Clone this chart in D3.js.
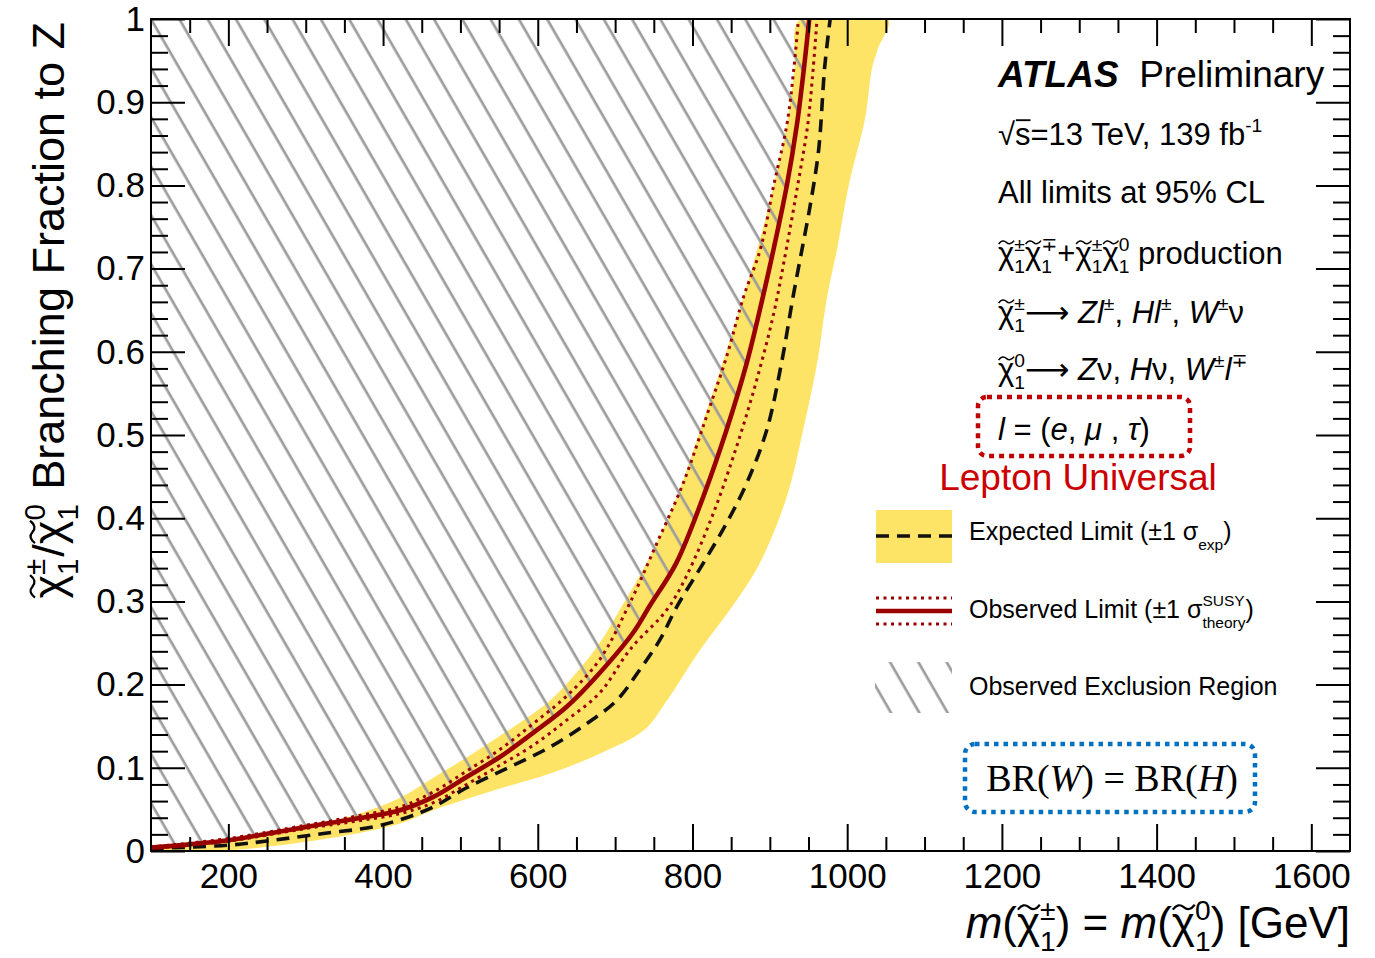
<!DOCTYPE html>
<html>
<head>
<meta charset="utf-8">
<script src="https://cdn.jsdelivr.net/npm/d3@7"></script>
<style>
  html, body { margin: 0; padding: 0; background: #fff; }
  svg { display: block; }
  text { white-space: pre; }
</style>
</head>
<body>
<svg id="chart" width="1375" height="958"></svg>
<script>
// ---------------- DATA ----------------
// Expected limit (black dashed): mass [GeV] and branching fraction
const expMass = [100, 200, 258, 323, 387, 430, 465, 508, 564, 616, 663, 702, 732, 758, 780, 814, 844, 870, 896, 915, 930, 943, 952, 963, 971, 978];
const expBR   = [0.003, 0.007, 0.013, 0.021, 0.029, 0.040, 0.053, 0.076, 0.101, 0.125, 0.153, 0.181, 0.218, 0.254, 0.294, 0.346, 0.394, 0.442, 0.506, 0.586, 0.666, 0.730, 0.775, 0.842, 0.943, 1.0];

// Expected +-1 sigma band: upper-left edge and lower-right edge
const bandLoMass = [100, 215, 300, 366, 422, 465, 529, 581, 616, 646, 680, 706, 745, 780, 810, 836, 862, 887, 905, 922, 932, 939];
const bandLoBR   = [0.007, 0.016, 0.029, 0.044, 0.064, 0.088, 0.125, 0.157, 0.181, 0.210, 0.250, 0.290, 0.354, 0.426, 0.506, 0.578, 0.654, 0.734, 0.800, 0.873, 0.940, 1.0];
const bandHiMass = [100, 200, 240, 301, 360, 425, 465, 551, 616, 680, 737, 767, 810, 853, 887, 922, 943, 961, 974, 987, 1002, 1023, 1032, 1040, 1053];
const bandHiBR   = [0.0, 0.001, 0.004, 0.011, 0.020, 0.034, 0.049, 0.075, 0.093, 0.117, 0.145, 0.181, 0.242, 0.296, 0.346, 0.426, 0.506, 0.586, 0.666, 0.724, 0.800, 0.880, 0.940, 0.965, 1.0];

// Observed limit (dark red solid)
const obsMass = [100, 150, 200, 258, 301, 366, 422, 465, 508, 551, 594, 637, 680, 723, 745, 779, 814, 844, 870, 891, 905, 922, 935, 944, 951];
const obsBR   = [0.004, 0.008, 0.013, 0.022, 0.029, 0.039, 0.049, 0.065, 0.089, 0.113, 0.142, 0.173, 0.214, 0.262, 0.295, 0.346, 0.426, 0.506, 0.586, 0.666, 0.724, 0.800, 0.873, 0.940, 1.0];

// Observed +1 sigma theory (left dotted) and -1 sigma theory (right dotted)
const obsUpMass = [100, 200, 300, 366, 422, 465, 508, 551, 594, 637, 680, 719, 754, 788, 818, 844, 866, 888, 905, 922, 931, 937];
const obsUpBR   = [0.005, 0.015, 0.031, 0.042, 0.053, 0.071, 0.096, 0.122, 0.153, 0.186, 0.230, 0.298, 0.370, 0.442, 0.522, 0.594, 0.666, 0.724, 0.800, 0.873, 0.940, 1.0];
const obsDnMass = [100, 200, 300, 366, 422, 465, 508, 551, 594, 637, 680, 720, 767, 792, 827, 857, 883, 905, 921, 936, 949, 956, 961];
const obsDnBR   = [0.003, 0.012, 0.027, 0.036, 0.045, 0.058, 0.080, 0.103, 0.127, 0.157, 0.190, 0.243, 0.290, 0.330, 0.406, 0.486, 0.566, 0.646, 0.722, 0.800, 0.873, 0.940, 1.0];

// Axis ticks
const xMajorTicks = [200, 400, 600, 800, 1000, 1200, 1400, 1600];
const xMinorTicks = [150, 250, 300, 350, 450, 500, 550, 650, 700, 750, 850, 900, 950, 1050, 1100, 1150, 1250, 1300, 1350, 1450, 1500, 1550];
const yMajorTicks = [0, 0.1, 0.2, 0.3, 0.4, 0.5, 0.6, 0.7, 0.8, 0.9, 1.0];
const yMinorTicks = [0.02, 0.04, 0.06, 0.08, 0.12, 0.14, 0.16, 0.18, 0.22, 0.24, 0.26, 0.28, 0.32, 0.34, 0.36, 0.38, 0.42, 0.44, 0.46, 0.48, 0.52, 0.54, 0.56, 0.58, 0.62, 0.64, 0.66, 0.68, 0.72, 0.74, 0.76, 0.78, 0.82, 0.84, 0.86, 0.88, 0.92, 0.94, 0.96, 0.98];

// ---------------- DRAWING ----------------
const SANS = "'Liberation Sans', Arial, Helvetica, 'DejaVu Sans', sans-serif";
const SERIF = "'Liberation Serif', 'DejaVu Serif', serif";
const svg = d3.select('#chart');
svg.append('rect').attr('width', 1375).attr('height', 958).attr('fill', '#fff');

const L = 151, R = 1350, T = 19, B = 851;
const x = d3.scaleLinear().domain([100, 1650]).range([L, R]);
const y = d3.scaleLinear().domain([0, 1]).range([B, T]);

const defs = svg.append('defs');
defs.append('clipPath').attr('id', 'plotclip')
  .append('rect').attr('x', L).attr('y', T).attr('width', R - L).attr('height', B - T);

// hatch pattern (lines at 60 degrees, "\" direction)
const hs = 24.5;
const hatch = defs.append('pattern').attr('id', 'hatch')
  .attr('patternUnits', 'userSpaceOnUse')
  .attr('width', hs).attr('height', hs)
  .attr('patternTransform', 'rotate(-30)');
const u0 = ((L * Math.cos(Math.PI / 6) - T * 0.5) % hs + hs) % hs;
[u0, u0 - hs, u0 + hs].forEach(u => {
  hatch.append('line').attr('x1', u).attr('x2', u).attr('y1', -2).attr('y2', hs + 2)
    .attr('stroke', '#9c9c9c').attr('stroke-width', 2.7);
});

const plot = svg.append('g').attr('clip-path', 'url(#plotclip)');

const zip = (ms, bs) => ms.map((m, i) => [m, bs[i]]);
const lineLin = d3.line().x(d => x(d[0])).y(d => y(d[1]));
const lineSmooth = d3.line().x(d => x(d[0])).y(d => y(d[1])).curve(d3.curveCatmullRom.alpha(0.5));

// yellow band
const bandPts = zip(bandLoMass, bandLoBR).concat(zip(bandHiMass, bandHiBR).reverse());
plot.append('path').attr('d', lineSmooth(bandPts) + 'Z').attr('fill', '#fee466').attr('stroke', 'none');

// hatched exclusion region (left of observed line)
const obsPts = zip(obsMass, obsBR);
const hatchPoly = [[100, 1.05], [obsMass[obsMass.length - 1], 1.05]].concat(obsPts.slice().reverse()).concat([[100, obsBR[0]]]);
plot.append('path').attr('d', lineLin(hatchPoly) + 'Z').attr('fill', 'url(#hatch)').attr('stroke', 'none');

// expected dashed
plot.append('path').attr('d', lineSmooth(zip(expMass, expBR)))
  .attr('fill', 'none').attr('stroke', '#111').attr('stroke-width', 3.6).attr('stroke-dasharray', '13,8');

// observed theory dotted
[zip(obsUpMass, obsUpBR), zip(obsDnMass, obsDnBR)].forEach(p => {
  plot.append('path').attr('d', lineSmooth(p))
    .attr('fill', 'none').attr('stroke', '#990000').attr('stroke-width', 3).attr('stroke-dasharray', '3,4.5');
});
// observed solid
plot.append('path').attr('d', lineSmooth(obsPts))
  .attr('fill', 'none').attr('stroke', '#990000').attr('stroke-width', 4.6);

// ---------------- AXES ----------------
function styleAxis(g) {
  g.select('.domain').remove();
  g.selectAll('line').attr('stroke', '#000').attr('stroke-width', 2);
  g.selectAll('text').attr('font-size', 35).attr('font-family', SANS).attr('fill', '#000');
}
const fmtY = d => (d === 0 ? '0' : d === 1 ? '1' : d3.format('.1f')(d));

svg.append('g').attr('transform', `translate(0,${B})`)
  .call(d3.axisBottom(x).tickValues(xMajorTicks).tickSize(-27).tickPadding(12).tickFormat(d3.format('d'))).call(styleAxis);
svg.append('g').attr('transform', `translate(0,${B})`)
  .call(d3.axisBottom(x).tickValues(xMinorTicks).tickSize(-14).tickFormat('')).call(styleAxis);
svg.append('g').attr('transform', `translate(0,${T})`)
  .call(d3.axisTop(x).tickValues(xMajorTicks).tickSize(-27).tickFormat('')).call(styleAxis);
svg.append('g').attr('transform', `translate(0,${T})`)
  .call(d3.axisTop(x).tickValues(xMinorTicks).tickSize(-14).tickFormat('')).call(styleAxis);

svg.append('g').attr('transform', `translate(${L},0)`)
  .call(d3.axisLeft(y).tickValues(yMajorTicks).tickSize(-34).tickPadding(6).tickFormat(fmtY)).call(styleAxis);
svg.append('g').attr('transform', `translate(${L},0)`)
  .call(d3.axisLeft(y).tickValues(yMinorTicks).tickSize(-17).tickFormat('')).call(styleAxis);
svg.append('g').attr('transform', `translate(${R},0)`)
  .call(d3.axisRight(y).tickValues(yMajorTicks).tickSize(-34).tickFormat('')).call(styleAxis);
svg.append('g').attr('transform', `translate(${R},0)`)
  .call(d3.axisRight(y).tickValues(yMinorTicks).tickSize(-17).tickFormat('')).call(styleAxis);

svg.append('rect').attr('x', L).attr('y', T).attr('width', R - L).attr('height', B - T)
  .attr('fill', 'none').attr('stroke', '#000').attr('stroke-width', 2);

// ---------------- RICH TEXT HELPER ----------------
function mkText(g, xx, yy, f, col, str) {
  return g.append('text').attr('x', xx).attr('y', yy).attr('font-size', f)
    .attr('font-family', SANS).attr('fill', col).text(str);
}
function rich(g, x0, y0, runs, fs, color) {
  let cx = x0;
  const col = color || '#000';
  runs.forEach(r => {
    const f = r.fs || fs;
    const c = r.fill || col;
    if (r.t !== undefined && r.t !== '') {
      const t = mkText(g, cx, y0, f, c, r.t);
      if (r.it) t.attr('font-style', 'italic');
      if (r.b) t.attr('font-weight', 'bold');
      const w = t.node().getComputedTextLength();
      if (r.tilde) {
        const tw = w * 0.95, ty = y0 - f * 0.70, a = f * 0.055, x1 = cx + w * 0.04;
        g.append('path')
          .attr('d', `M${x1},${ty + a} Q${x1 + tw / 4},${ty - 2 * a} ${x1 + tw / 2},${ty} T${x1 + tw},${ty - a}`)
          .attr('fill', 'none').attr('stroke', c).attr('stroke-width', Math.max(1.2, f * 0.05));
      }
      if (r.bar) {
        // overbar for the radical sign over the following characters
        g.append('line').attr('x1', cx + w * r.bar[0]).attr('x2', cx + w * r.bar[1])
          .attr('y1', y0 - f * 0.80).attr('y2', y0 - f * 0.80)
          .attr('stroke', c).attr('stroke-width', f * 0.06);
      }
      cx += w;
    }
    if (r.sup !== undefined || r.sub !== undefined) {
      const sf = f * (r.sfs || 0.62);
      let w1 = 0, w2 = 0;
      if (r.sup !== undefined) {
        const t = mkText(g, cx + (r.supdx || 0), y0 - f * (r.supUp || 0.42), sf, c, r.sup);
        w1 = t.node().getComputedTextLength() + (r.supdx || 0);
      }
      if (r.sub !== undefined) {
        const t = mkText(g, cx, y0 + f * (r.subDown || 0.30), sf, c, r.sub);
        w2 = t.node().getComputedTextLength();
      }
      cx += Math.max(w1, w2);
    }
    if (r.sp) cx += r.sp * f;
  });
  return cx - x0;
}

// ---------------- Y-AXIS TITLE ----------------
{
  const g = svg.append('g');
  const inner = g.append('g');
  const w = rich(inner, 0, 0, [
    { t: 'χ', tilde: true, sup: '±', sub: '1', sfs: 0.66, sp: 0.04 },
    { t: '/' },
    { t: 'χ', tilde: true, sup: '0', sub: '1', sfs: 0.66, sp: 0.04 },
    { t: ' Branching Fraction to Z' }
  ], 45);
  g.attr('transform', `translate(64,${22 + w}) rotate(-90)`);
}

// ---------------- X-AXIS TITLE ----------------
{
  const g = svg.append('g');
  const w = rich(g, 0, 0, [
    { t: 'm', it: true }, { t: '(' },
    { t: 'χ', tilde: true, sup: '±', sub: '1', sfs: 0.64 },
    { t: ') = ' }, { t: 'm', it: true }, { t: '(' },
    { t: 'χ', tilde: true, sup: '0', sub: '1', sfs: 0.64 },
    { t: ') [GeV]' }
  ], 44);
  g.attr('transform', `translate(${1350 - w},938)`);
}

// ---------------- LABEL BLOCK ----------------
const ARW = '⟶';
const lab = svg.append('g');
rich(lab, 998, 87, [{ t: 'ATLAS', b: true, it: true }, { t: '  Preliminary' }], 37);
rich(lab, 998, 145, [{ t: '√s', bar: [0.55, 1.0] }, { t: '=13 TeV, 139 fb', sup: '-1' }], 31);
rich(lab, 998, 203, [{ t: 'All limits at 95% CL' }], 31);
rich(lab, 998, 264, [
  { t: 'χ', tilde: true, sup: '±', sub: '1' },
  { t: 'χ', tilde: true, sup: '∓', sub: '1' },
  { t: '+' },
  { t: 'χ', tilde: true, sup: '±', sub: '1' },
  { t: 'χ', tilde: true, sup: '0', sub: '1' },
  { t: ' production' }
], 31);
rich(lab, 998, 323, [
  { t: 'χ', tilde: true, sup: '±', sub: '1' },
  { t: ARW + ' ' }, { t: 'Zl', it: true, sup: '±' }, { t: ', ' },
  { t: 'Hl', it: true, sup: '±' }, { t: ', ' },
  { t: 'W', it: true, sup: '±' }, { t: 'ν' }
], 31);
rich(lab, 998, 380, [
  { t: 'χ', tilde: true, sup: '0', sub: '1' },
  { t: ARW + ' ' }, { t: 'Z', it: true }, { t: 'ν, ' },
  { t: 'H', it: true }, { t: 'ν, ' },
  { t: 'W', it: true, sup: '±' }, { t: 'l', it: true, sup: '∓' }
], 31);
rich(lab, 998, 440, [
  { t: 'l', it: true }, { t: ' = (' }, { t: 'e', it: true }, { t: ', ' },
  { t: 'μ', it: true }, { t: ' , ' }, { t: 'τ', it: true }, { t: ')' }
], 31);
svg.append('rect').attr('x', 978).attr('y', 397).attr('width', 212).attr('height', 59).attr('rx', 9)
  .attr('fill', 'none').attr('stroke', '#c00000').attr('stroke-width', 4.5).attr('stroke-dasharray', '5,5');
svg.append('text').attr('x', 1078).attr('y', 490).attr('text-anchor', 'middle')
  .attr('font-family', SANS).attr('font-size', 37).attr('fill', '#cc0000').text('Lepton Universal');

// ---------------- LEGEND ----------------
const leg = svg.append('g');
leg.append('rect').attr('x', 876).attr('y', 510).attr('width', 76).attr('height', 53).attr('fill', '#fee466');
leg.append('line').attr('x1', 876).attr('x2', 952).attr('y1', 536).attr('y2', 536)
  .attr('stroke', '#111').attr('stroke-width', 3.6).attr('stroke-dasharray', '13,8');
rich(leg, 969, 540, [{ t: 'Expected Limit (±1 σ', sub: 'exp', subDown: 0.38 }, { t: ')' }], 25);

leg.append('line').attr('x1', 876).attr('x2', 952).attr('y1', 611).attr('y2', 611)
  .attr('stroke', '#990000').attr('stroke-width', 4.6);
[598, 624].forEach(yy => leg.append('line').attr('x1', 876).attr('x2', 952).attr('y1', yy).attr('y2', yy)
  .attr('stroke', '#990000').attr('stroke-width', 3).attr('stroke-dasharray', '3,4.5'));
rich(leg, 969, 618, [{ t: 'Observed Limit (±1 σ', sup: 'SUSY', sub: 'theory', supUp: 0.5, subDown: 0.38 }, { t: ')' }], 25);

leg.append('rect').attr('x', 875).attr('y', 662).attr('width', 77).attr('height', 51).attr('fill', 'url(#hatch)');
rich(leg, 969, 695, [{ t: 'Observed Exclusion Region' }], 25);

// ---------------- BR(W)=BR(H) box ----------------
svg.append('rect').attr('x', 965).attr('y', 744).attr('width', 290).attr('height', 68).attr('rx', 10)
  .attr('fill', 'none').attr('stroke', '#0070c0').attr('stroke-width', 4.5).attr('stroke-dasharray', '4.5,5');
{
  const t = svg.append('text').attr('x', 1112).attr('y', 791).attr('text-anchor', 'middle')
    .attr('font-size', 38).attr('font-family', SERIF).attr('fill', '#000');
  t.append('tspan').text('BR(');
  t.append('tspan').attr('font-style', 'italic').text('W');
  t.append('tspan').text(') = BR(');
  t.append('tspan').attr('font-style', 'italic').text('H');
  t.append('tspan').text(')');
}
</script>
</body>
</html>
